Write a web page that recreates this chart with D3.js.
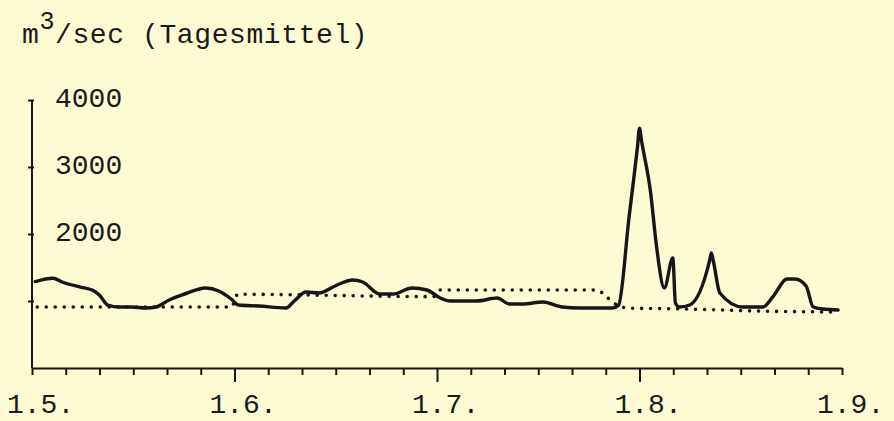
<!DOCTYPE html>
<html>
<head>
<meta charset="utf-8">
<script src="https://cdn.jsdelivr.net/npm/d3@7"></script>
<style>
  html, body { margin: 0; padding: 0; background: #fcfbd3; }
  svg { display: block; }
  text { font-family: "Liberation Mono", "Courier New", monospace; fill: #1a1a1a; }
</style>
</head>
<body>
<svg id="chart" width="894" height="421"></svg>
<script>
// ---- data ----
const monthLabels = ["1.5.", "1.6.", "1.7.", "1.8.", "1.9."];
const monthStartDays = [0, 31, 61, 92, 123];   // days since 1 May
const yTickValues = [1000, 2000, 3000, 4000];
const yLabelValues = [2000, 3000, 4000];

// daily mean discharge (solid line): day since 1 May, m3/sec
const flowDays = [0.5, 3.2, 4.7, 7.3, 9.3, 10.3, 11.6, 13.4, 15.2, 17.5, 19, 21, 23, 26.6, 28.6, 30.5,
  31.6, 34.6, 38.6, 40, 41.6, 43.5, 46.2, 48.5, 50, 52.5, 54.5, 57.3, 59.5,
  61.5, 63, 67.1, 70.2, 72.1, 74.1, 77.2, 80.2, 82.8, 87.9, 88.8,
  90.4, 91.7, 92, 92.3, 93.7, 94.6, 95.8, 97.1, 97.5, 98.1, 99.7, 102.7, 103, 103.3, 104.3, 107.8, 110.9, 112.4, 114.6, 115.8, 117.5, 118.6, 120.1, 122.4];
const flowValues = [1290, 1340, 1280, 1210, 1160, 1090, 940, 910, 910, 895, 910, 1015, 1090, 1194, 1150, 1030,
  940, 925, 895, 1015, 1134, 1119, 1239, 1313, 1284, 1104, 1104, 1194, 1164,
  1045, 1000, 1000, 1045, 955, 955, 985, 910, 895, 895, 940,
  2250, 3310, 3580, 3400, 2620, 1820, 1194, 1642, 970, 910, 940, 1590, 1716, 1600, 1119, 910, 910, 1060, 1328, 1328, 1224, 910, 880, 866];

// reference level (dotted line)
const refDays = [0.8, 30.5, 31.5, 60.5, 61.5, 85.4, 87, 87.8, 89, 90, 99.7, 110, 122.4];
const refValues = [910, 910, 1100, 1065, 1164, 1164, 1060, 985, 925, 895, 880, 850, 836];

// ---- layout ----
const svg = d3.select("#chart");
const mLeft = 32, mRight = 842, mTop = 100, mBottom = 368;

const x = d3.scaleLinear()
  .domain(monthStartDays)
  .range(monthStartDays.map((d, i) => mLeft + i * (mRight - mLeft) / (monthStartDays.length - 1)));
const y = d3.scaleLinear().domain([0, 4000]).range([mBottom, mTop]);

const ink = "#161616";

// minor ticks: each month divided into six parts
const minorTicks = [];
for (let i = 0; i < monthStartDays.length - 1; i++) {
  const len = monthStartDays[i + 1] - monthStartDays[i];
  for (let k = 1; k <= 5; k++) minorTicks.push(monthStartDays[i] + k * len / 6);
}
const endTicks = [monthStartDays[0], monthStartDays[monthStartDays.length - 1]];
const majorTicks = monthStartDays.slice(1, -1);

// x axis
const gx = svg.append("g").attr("transform", `translate(0,${mBottom})`);
gx.call(d3.axisBottom(x).tickValues(minorTicks.concat(endTicks)).tickSize(7).tickSizeOuter(0).tickFormat(""));
const gx2 = svg.append("g").attr("transform", `translate(0,${mBottom})`);
gx2.call(d3.axisBottom(x).tickValues(majorTicks).tickSize(14).tickSizeOuter(0).tickFormat(""));
gx2.select(".domain").remove();
[gx, gx2].forEach(g => {
  g.selectAll("path,line").attr("stroke", ink).attr("stroke-width", 2);
});

svg.append("g").selectAll("text")
  .data(monthStartDays)
  .join("text")
  .attr("x", d => x(d) - 25)
  .attr("y", 413)
  .attr("font-size", 28)
  .text((d, i) => monthLabels[i]);

// y axis
const gy = svg.append("g").attr("transform", `translate(${mLeft},0)`);
gy.call(d3.axisLeft(y).tickValues(yTickValues).tickSize(4).tickSizeOuter(0).tickFormat(""));
gy.selectAll(".tick line").attr("x1", 2);
gy.selectAll("path,line").attr("stroke", ink).attr("stroke-width", 2);
gy.select(".domain").attr("d", `M0,${y(4000)}V${mBottom}`);

svg.append("g").selectAll("text")
  .data(yLabelValues)
  .join("text")
  .attr("x", 55)
  .attr("y", d => y(d) + 7)
  .attr("font-size", 28)
  .text(d => d);

// title
const title = svg.append("text").attr("x", 22).attr("y", 43).attr("font-size", 28).attr("letter-spacing", 0.6);
title.append("tspan").text("m");
title.append("tspan").attr("dy", -14).attr("font-size", 25).text("3");
title.append("tspan").attr("dy", 14).text("/sec (Tagesmittel)");

// dotted reference line
const refLine = d3.line().x(d => x(d[0])).y(d => y(d[1])).curve(d3.curveMonotoneX);
svg.append("path")
  .datum(refDays.map((d, i) => [d, refValues[i]]))
  .attr("d", refLine)
  .attr("fill", "none")
  .attr("stroke", ink)
  .attr("stroke-width", 3.6)
  .attr("stroke-linecap", "round")
  .attr("stroke-dasharray", "0 9");

// solid discharge line
const flowLine = d3.line().x(d => x(d[0])).y(d => y(d[1])).curve(d3.curveMonotoneX);
svg.append("path")
  .datum(flowDays.map((d, i) => [d, flowValues[i]]))
  .attr("d", flowLine)
  .attr("fill", "none")
  .attr("stroke", ink)
  .attr("stroke-width", 3.4)
  .attr("stroke-linejoin", "round")
  .attr("stroke-linecap", "round");
</script>
</body>
</html>
